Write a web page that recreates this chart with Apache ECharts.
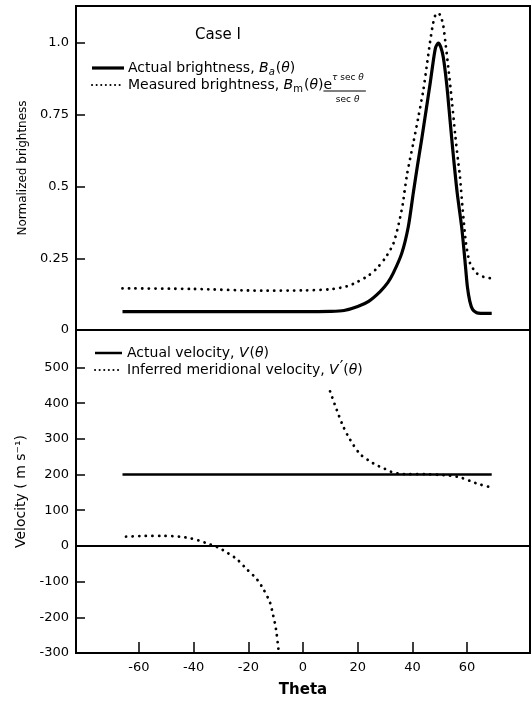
<!DOCTYPE html>
<html>
<head>
<meta charset="utf-8">
<script src="https://cdn.jsdelivr.net/npm/echarts@6/dist/echarts.min.js"></script>
<style>
html,body{margin:0;padding:0;background:#fff;}
#chart{width:532px;height:701px;}
</style>
</head>
<body>
<div id="chart"></div>
<script>
// ---------- DATA ----------
const thetaTicks = [-60, -40, -20, 0, 20, 40, 60];
const brightnessTicks = [0, 0.25, 0.5, 0.75, 1.0];
const brightnessTickLabels = ['0', '0.25', '0.5', '0.75', '1.0'];
const velocityTicks = [-300, -200, -100, 0, 100, 200, 300, 400, 500];

const actualBrightnessTheta = [-66, -40, -20, 0, 10, 15, 20, 24, 28.2, 31, 33, 36.1, 38.5, 40.3, 41.8, 43.4, 45, 46.5, 47.6, 48.5, 49.5, 50.4, 51.3, 52.5, 53.4, 54.4, 55.2, 56.4, 58, 59.2, 60.1, 61, 62, 63.5, 65, 69];
const actualBrightness      = [0.064, 0.064, 0.064, 0.064, 0.065, 0.068, 0.082, 0.1, 0.134, 0.165, 0.198, 0.267, 0.36, 0.476, 0.57, 0.665, 0.765, 0.86, 0.935, 0.985, 1.0, 0.985, 0.95, 0.86, 0.77, 0.665, 0.585, 0.476, 0.36, 0.244, 0.151, 0.1, 0.072, 0.06, 0.058, 0.058];

const measuredTheta      = [-66, -40, -15, 0, 10, 16, 20, 24, 27, 30, 33, 35, 36.5, 38, 40.3, 42.2, 44, 45.2, 46.4, 47.4, 48.3, 49.3, 50.3, 51.3, 52.1, 53.1, 54.4, 55.6, 56.8, 57.4, 58.4, 59.6, 61.1, 63.5, 66, 69];
const measuredBrightness = [0.145, 0.143, 0.137, 0.138, 0.142, 0.152, 0.168, 0.19, 0.215, 0.25, 0.3, 0.37, 0.44, 0.54, 0.65, 0.743, 0.836, 0.917, 1.0, 1.06, 1.095, 1.105, 1.095, 1.06, 1.0, 0.917, 0.801, 0.685, 0.581, 0.534, 0.418, 0.302, 0.232, 0.198, 0.185, 0.18];

const actualVelocityTheta = [-66, 69];
const actualVelocity      = [200, 200];

const inferredLeftTheta    = [-64.7, -58, -51, -45, -41.3, -38, -35.2, -31, -27.5, -24.2, -20.6, -16.9, -14.5, -12.1, -10.9, -9.9, -9.0, -8.8];
const inferredLeftVelocity = [26, 28, 28, 26, 21.5, 15, 7.5, -4.5, -20, -37, -65, -93, -121, -158, -195, -232, -288, -300];

const inferredRightTheta    = [9.9, 12.3, 14.7, 17.2, 20.8, 24.5, 27, 29.4, 32.4, 35, 38, 45, 50, 53.7, 57.4, 61.1, 64.7, 69.6];
const inferredRightVelocity = [433, 382, 335, 298, 258, 237, 226, 218, 207, 203, 201, 201, 199, 197, 192, 182, 172, 163];

// ---------- HELPERS ----------
const zip = (xs, ys) => xs.map((x, i) => [x, ys[i]]);
const FONT = 'DejaVu Sans';
const cv = document.createElement('canvas').getContext('2d');
function measure(t, size, italic) {
  cv.font = (italic ? 'italic ' : '') + size + 'px "' + FONT + '"';
  return cv.measureText(t).width;
}
function textEl(t, x, y, size, italic, align) {
  return {
    type: 'text', x: x, y: y, silent: true,
    style: {
      text: t, fontSize: size, fontFamily: FONT, fontStyle: italic ? 'italic' : 'normal',
      fill: '#000', align: align || 'left', verticalAlign: 'middle'
    }
  };
}
function flow(pieces, x0, y) {
  const els = []; let x = x0; const pos = [];
  pieces.forEach(p => {
    const s = p.s || 14;
    x += (p.pre || 0);
    els.push(textEl(p.t, x, y + (p.dy || 0), s, p.it));
    pos.push(x);
    x += measure(p.t, s, p.it);
  });
  pos.push(x);
  return {els, pos};
}
const dotted = {type: [0.1, 6.5], cap: 'round', width: 2.8, color: '#000'};

// ---------- LEGENDS ----------
const graphics = [];
graphics.push(textEl('Case I', 218, 35, 15, false, 'center'));
// brightness legend
graphics.push({type: 'line', silent: true, shape: {x1: 92, y1: 68, x2: 124, y2: 68}, style: {stroke: '#000', lineWidth: 3.2}});
graphics.push(...flow([
  {t: 'Actual brightness, '}, {t: 'B', it: true}, {t: 'a', s: 10, it: true, dy: 4}, {t: '(', pre: 1}, {t: 'θ', it: true}, {t: ')'}
], 128, 68).els);
graphics.push({type: 'line', silent: true, shape: {x1: 92, y1: 85, x2: 123, y2: 85}, style: {stroke: '#000', lineWidth: 2, lineDash: [0.1, 4.5], lineCap: 'round'}});
const f2 = flow([
  {t: 'Measured brightness, '}, {t: 'B', it: true}, {t: 'm', s: 10, dy: 4}, {t: '(', pre: 1}, {t: 'θ', it: true}, {t: ')'}, {t: 'e'}
], 128, 85);
graphics.push(...f2.els);
const eStart = f2.pos[6];
const supX = f2.pos[7];
const f3 = flow([{t: 'τ', s: 9, it: true}, {t: ' sec ', s: 9}, {t: 'θ', s: 9, it: true}], supX, 78);
graphics.push(...f3.els);
const supEnd = f3.pos[3];
graphics.push({type: 'line', silent: true, shape: {x1: eStart, y1: 91, x2: supEnd + 2, y2: 91}, style: {stroke: '#000', lineWidth: 1.2}});
const denomW = measure('sec ', 9) + measure('θ', 9, true);
const dx = (eStart + supEnd) / 2 - denomW / 2 + 4;
graphics.push(...flow([{t: 'sec ', s: 9}, {t: 'θ', s: 9, it: true}], dx, 100).els);
// velocity legend
graphics.push({type: 'line', silent: true, shape: {x1: 95, y1: 353, x2: 122, y2: 353}, style: {stroke: '#000', lineWidth: 2.5}});
graphics.push(...flow([
  {t: 'Actual velocity, '}, {t: 'V', it: true}, {t: '(', pre: 1}, {t: 'θ', it: true}, {t: ')'}
], 127, 353).els);
graphics.push({type: 'line', silent: true, shape: {x1: 95, y1: 370, x2: 122, y2: 370}, style: {stroke: '#000', lineWidth: 2, lineDash: [0.1, 4.5], lineCap: 'round'}});
graphics.push(...flow([
  {t: 'Inferred meridional velocity, '}, {t: 'V', it: true}, {t: '′', s: 16, dy: -2, pre: 1}, {t: '(', pre: 0}, {t: 'θ', it: true}, {t: ')'}
], 127, 370).els);

// ---------- CHART ----------
const axisFont = {fontFamily: FONT, fontSize: 13, color: '#000'};
const axisLineStyle = {onZero: false, lineStyle: {color: '#000', width: 2}};
const chart = echarts.init(document.getElementById('chart'), null, {renderer: 'canvas'});
chart.setOption({
  animation: false,
  backgroundColor: '#fff',
  grid: [
    {left: 76, width: 454, top: 6, height: 324, show: true, borderColor: '#000', borderWidth: 2, backgroundColor: 'transparent'},
    {left: 76, width: 454, top: 330, height: 323, show: true, borderColor: '#000', borderWidth: 2, backgroundColor: 'transparent'}
  ],
  xAxis: [
    {type: 'value', gridIndex: 0, min: -83, max: 83, axisLine: axisLineStyle,
     axisTick: {show: false}, axisLabel: {show: false}, splitLine: {show: false}},
    {type: 'value', gridIndex: 1, min: -83, max: 83,
     name: 'Theta', nameLocation: 'middle', nameGap: 30,
     nameTextStyle: {fontFamily: FONT, fontSize: 15, color: '#000', fontWeight: 'bold'},
     axisLine: axisLineStyle,
     axisTick: {inside: true, length: 11, lineStyle: {color: '#000', width: 1.5}, customValues: thetaTicks},
     axisLabel: Object.assign({margin: 8, customValues: thetaTicks}, axisFont),
     splitLine: {show: false}}
  ],
  yAxis: [
    {type: 'value', gridIndex: 0, min: 0, max: 1.129,
     name: 'Normalized brightness', nameLocation: 'middle', nameGap: 46,
     nameTextStyle: {fontFamily: FONT, fontSize: 12, color: '#000'},
     axisLine: axisLineStyle,
     axisTick: {inside: true, length: 9, lineStyle: {color: '#000', width: 1.5}, customValues: brightnessTicks},
     axisLabel: Object.assign({margin: 7, customValues: brightnessTicks,
       formatter: v => { const i = brightnessTicks.findIndex(t => Math.abs(t - v) < 1e-6); return i >= 0 ? brightnessTickLabels[i] : ''; }}, axisFont),
     splitLine: {show: false}},
    {type: 'value', gridIndex: 1, min: -300, max: 605,
     name: 'Velocity ( m s⁻¹)', nameLocation: 'middle', nameGap: 46,
     nameTextStyle: {fontFamily: FONT, fontSize: 14, color: '#000'},
     axisLine: axisLineStyle,
     axisTick: {inside: true, length: 9, lineStyle: {color: '#000', width: 1.5}, customValues: velocityTicks},
     axisLabel: Object.assign({margin: 7, customValues: velocityTicks}, axisFont),
     splitLine: {show: false}}
  ],
  series: [
    {type: 'line', xAxisIndex: 0, yAxisIndex: 0, data: zip(actualBrightnessTheta, actualBrightness),
     smooth: 0.25, symbol: 'none', lineStyle: {color: '#000', width: 3.2}},
    {type: 'line', xAxisIndex: 0, yAxisIndex: 0, data: zip(measuredTheta, measuredBrightness),
     smooth: 0.25, symbol: 'none', lineStyle: dotted},
    {type: 'line', xAxisIndex: 1, yAxisIndex: 1, data: zip(actualVelocityTheta, actualVelocity),
     symbol: 'none', lineStyle: {color: '#000', width: 2.5},
     markLine: {silent: true, symbol: 'none', label: {show: false}, lineStyle: {color: '#000', width: 2, type: 'solid'}, data: [{yAxis: 0}]}},
    {type: 'line', xAxisIndex: 1, yAxisIndex: 1, data: zip(inferredLeftTheta, inferredLeftVelocity),
     smooth: 0.3, symbol: 'none', lineStyle: dotted},
    {type: 'line', xAxisIndex: 1, yAxisIndex: 1, data: zip(inferredRightTheta, inferredRightVelocity),
     smooth: 0.3, symbol: 'none', lineStyle: dotted}
  ],
  graphic: graphics
});
</script>
</body>
</html>
